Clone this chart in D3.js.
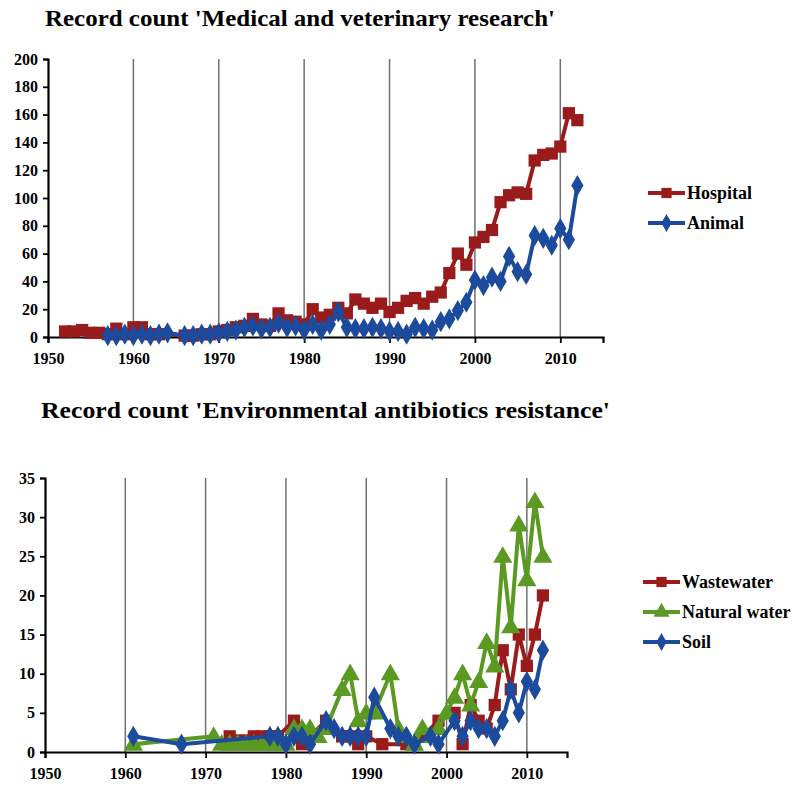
<!DOCTYPE html>
<html><head><meta charset="utf-8">
<script src="https://cdn.jsdelivr.net/npm/d3@7"></script>
<style>body{margin:0;background:#fff}svg{display:block}</style>
</head><body>
<script>
// ---- Data ----
const hospitalYears = [1952,1953,1954,1955,1956,1957,1958,1959,1960,1961,1962,1963,1966,1967,1968,1969,1970,1971,1972,1973,1974,1975,1976,1977,1978,1979,1980,1981,1982,1983,1984,1985,1986,1987,1988,1989,1990,1991,1992,1993,1994,1995,1996,1997,1998,1999,2000,2001,2002,2003,2004,2005,2006,2007,2008,2009,2010,2011,2012];
const hospitalValues = [4,4,5,3,3,2,6,2,7,7,2,2,1,1,2,2,4,5,7,8,13,9,8,17,12,11,9,20,14,16,21,17,27,24,21,24,18,21,26,28,24,29,32,46,60,52,68,72,77,97,102,104,103,127,131,132,137,161,156];
const animalYears = [1957,1958,1959,1960,1961,1962,1963,1964,1966,1967,1968,1969,1970,1971,1972,1973,1974,1975,1976,1977,1978,1979,1980,1981,1982,1983,1984,1985,1986,1987,1988,1989,1990,1991,1992,1993,1994,1995,1996,1997,1998,1999,2000,2001,2002,2003,2004,2005,2006,2007,2008,2009,2010,2011,2012];
const animalValues = [1,1,2,1,2,1,2,3,1,1,2,2,3,4,5,7,8,6,7,10,7,8,5,9,5,9,18,7,6,6,7,6,4,4,2,7,6,5,11,13,19,25,41,37,43,40,58,47,45,73,71,66,78,70,109];

const wasteYears = [1973,1976,1977,1978,1979,1981,1982,1985,1987,1988,1989,1990,1992,1995,1996,1997,1999,2001,2002,2003,2004,2005,2006,2007,2008,2009,2010,2011,2012];
const wasteValues = [2,2,2,2,2,4,1,4,2,2,1,2,1,1,1,2,4,5,1,6,4,3,6,13,8,15,11,15,20];
const naturalYears = [1961,1971,1972,1973,1974,1975,1976,1977,1978,1979,1980,1981,1982,1983,1984,1985,1987,1988,1989,1990,1991,1993,1994,1995,1996,1997,1998,1999,2000,2001,2002,2003,2004,2005,2006,2007,2008,2009,2010,2011,2012];
const naturalValues = [1,2,1,1,1,1,1,1,1,1,1,3,3,3,2,3,8,10,4,5,5,10,3,2,1,3,2,3,5,7,10,6,9,14,11,25,16,29,22,32,25];
const soilYears = [1961,1967,1978,1979,1980,1981,1982,1983,1985,1986,1987,1988,1989,1990,1991,1993,1994,1995,1996,1998,1999,2001,2002,2003,2004,2005,2006,2007,2008,2009,2010,2011,2012];
const soilValues = [2,1,2,2,1,2,2,1,4,3,2,2,2,2,7,3,2,2,1,2,1,4,2,4,3,3,2,4,8,5,9,8,13];

const xTicks = [1950,1960,1970,1980,1990,2000,2010];
const topYTicks = [0,20,40,60,80,100,120,140,160,180,200];
const botYTicks = [0,5,10,15,20,25,30,35];

const topTitle = "Record count 'Medical and veterinary research'";
const botTitle = "Record count 'Environmental antibiotics resistance'";
const topLegend = ["Hospital","Animal"];
const botLegend = ["Wastewater","Natural water","Soil"];

const RED = "#9a1b1b", BLUE = "#1c4a9c", GREEN = "#5b9a22";
const FONT = "'Liberation Serif','Times New Roman',serif";

const svg = d3.select("body").append("svg").attr("width",797).attr("height",791);

function symbolPath(type, size){
  if(type==="square") return d3.symbol(d3.symbolSquare, size)();
  if(type==="diamond") return d3.symbol(d3.symbolDiamond, size)();
  return d3.symbol(d3.symbolTriangle, size)();
}

function drawPanel(cfg){
  const g = svg.append("g");
  const x = d3.scaleLinear().domain([1950,2015]).range(cfg.xr);
  const y = d3.scaleLinear().domain(cfg.yd).range(cfg.yr);
  // gridlines
  g.selectAll(".grid").data(xTicks.filter(t=>t>1950)).join("line")
    .attr("x1",d=>x(d)).attr("x2",d=>x(d)).attr("y1",y(cfg.yd[1])).attr("y2",y(0))
    .attr("stroke","#707070").attr("stroke-width",1.5);
  // axes
  const ax = g.append("g").attr("transform",`translate(0,${y(0)})`)
    .call(d3.axisBottom(x).tickValues(xTicks).tickFormat(d3.format("d")).tickSize(6).tickPadding(10));
  const ay = g.append("g").attr("transform",`translate(${x(1950)},0)`)
    .call(d3.axisLeft(y).tickValues(cfg.yTicks).tickSize(5).tickPadding(5));
  [ax,ay].forEach(a=>{
    a.select(".domain").attr("stroke","#000").attr("stroke-width",2.2);
    a.selectAll(".tick line").attr("stroke","#000").attr("stroke-width",1.8);
    a.selectAll(".tick text").attr("font-family",FONT).attr("font-weight","bold")
      .attr("font-size",16).attr("fill","#000");
  });
  // series
  cfg.series.forEach(s=>{
    const pts = s.years.map((yr,i)=>[yr,s.values[i]]);
    g.append("path").datum(pts)
      .attr("d",d3.line().x(d=>x(d[0])).y(d=>y(d[1])))
      .attr("fill","none").attr("stroke",s.color).attr("stroke-width",4)
      .attr("stroke-linejoin","round");
    g.selectAll(null).data(pts).join("path")
      .attr("transform",d=>`translate(${x(d[0])},${y(d[1]) + (s.shape==="triangle"?1:0)})`)
      .attr("d",symbolPath(s.shape,s.size)).attr("fill",s.color);
  });
  // title
  svg.append("text").attr("x",cfg.title.x).attr("y",cfg.title.y)
    .attr("font-family",FONT).attr("font-weight","bold").attr("font-size",23)
    .attr("textLength",cfg.title.w).attr("lengthAdjust","spacingAndGlyphs")
    .attr("text-anchor","start").text(cfg.title.text);
  // legend
  cfg.series.forEach((s,i)=>{
    const ly = cfg.legend.y + i*cfg.legend.dy;
    const lg = svg.append("g");
    lg.append("line").attr("x1",cfg.legend.x).attr("x2",cfg.legend.x+37)
      .attr("y1",ly).attr("y2",ly).attr("stroke",s.color).attr("stroke-width",4);
    lg.append("path").attr("transform",`translate(${cfg.legend.x+18.5},${ly})`)
      .attr("d",symbolPath(s.shape,s.size*0.7)).attr("fill",s.color);
    lg.append("text").attr("x",cfg.legend.x+39).attr("y",ly).attr("dy","0.35em")
      .attr("font-family",FONT).attr("font-weight","bold").attr("font-size",18)
      .text(s.name);
  });
}

drawPanel({
  xr:[48,603], yd:[0,200], yr:[337,59], yTicks: topYTicks,
  title:{x:45,y:26,w:510,text:topTitle},
  legend:{x:648,y:193,dy:30},
  series:[
    {name:topLegend[0],years:hospitalYears,values:hospitalValues,color:RED,shape:"square",size:150},
    {name:topLegend[1],years:animalYears,values:animalValues,color:BLUE,shape:"diamond",size:130}
  ]
});
drawPanel({
  xr:[45,567], yd:[0,35], yr:[752,478], yTicks: botYTicks,
  title:{x:41,y:418,w:569,text:botTitle},
  legend:{x:643,y:582,dy:30},
  series:[
    {name:botLegend[0],years:wasteYears,values:wasteValues,color:RED,shape:"square",size:150},
    {name:botLegend[1],years:naturalYears,values:naturalValues,color:GREEN,shape:"triangle",size:160},
    {name:botLegend[2],years:soilYears,values:soilValues,color:BLUE,shape:"diamond",size:130}
  ]
});
</script>
</body></html>
